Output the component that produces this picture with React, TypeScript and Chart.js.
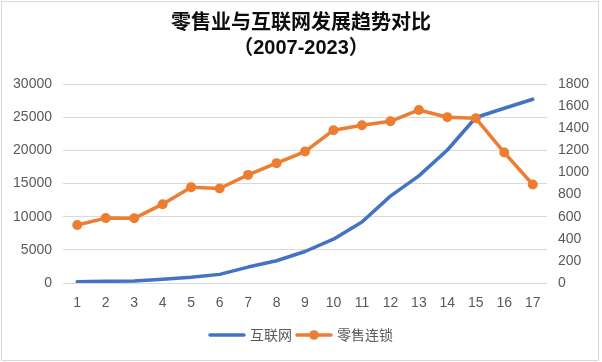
import React, { useEffect, useRef } from "react";
import { Chart, registerables } from "chart.js";

Chart.register(...registerables);

const categories = ["1","2","3","4","5","6","7","8","9","10","11","12","13","14","15","16","17"];
const internetValues = [200, 250, 300, 550, 850, 1300, 2400, 3350, 4750, 6600, 9200, 13100, 16150, 20050, 24950, 26350, 27700];
const retailValues = [524, 587, 585, 713, 867, 855, 978, 1084, 1189, 1382, 1427, 1463, 1565, 1499, 1490, 1180, 891];
const titleLines = ["零售业与互联网发展趋势对比", "（2007-2023）"];
const seriesNames = ["互联网", "零售连锁"];

const BLUE = "#4472C4";
const ORANGE = "#ED7D31";
const TEXT = "#595959";
const FONT = "'Liberation Sans', 'Noto Sans CJK SC', sans-serif";

const decorPlugin = {
  id: "decor",
  beforeDraw(chart: any) {
    const ctx = chart.ctx;
    ctx.save();
    ctx.fillStyle = "#ffffff";
    ctx.fillRect(0, 0, chart.width, chart.height);
    ctx.strokeStyle = "#D9D9D9";
    ctx.lineWidth = 1;
    ctx.strokeRect(1.5, 1.5, 597, 359);
    ctx.restore();
  },
  afterDraw(chart: any) {
    const ctx = chart.ctx;
    ctx.save();
    // title
    ctx.fillStyle = "#0d0d0d";
    ctx.font = "bold 20px " + FONT;
    ctx.textAlign = "center";
    ctx.textBaseline = "middle";
    ctx.fillText(titleLines[0], chart.width / 2, 23);
    ctx.fillText(titleLines[1], chart.width / 2, 48);
    // legend
    ctx.font = "14px " + FONT;
    ctx.textAlign = "left";
    const ds = chart.data.datasets;
    const lineW = 36;
    const gapText = 5;
    const gapItem = 4;
    const widths = ds.map((d: any) => ctx.measureText(d.label).width);
    let total = 0;
    widths.forEach((w: number, i: number) => {
      total += lineW + gapText + w + (i < widths.length - 1 ? gapItem : 0);
    });
    let x = chart.width / 2 - total / 2;
    const y = 335;
    ds.forEach((d: any, i: number) => {
      ctx.strokeStyle = d.borderColor;
      ctx.lineWidth = 3.5;
      ctx.lineCap = "round";
      ctx.beginPath();
      ctx.moveTo(x + 1, y);
      ctx.lineTo(x + lineW - 1, y);
      ctx.stroke();
      if (d.pointRadius > 0) {
        ctx.fillStyle = d.pointBackgroundColor;
        ctx.beginPath();
        ctx.arc(x + lineW / 2, y, 4.8, 0, Math.PI * 2);
        ctx.fill();
      }
      ctx.fillStyle = TEXT;
      ctx.fillText(d.label, x + lineW + gapText, y + 1);
      x += lineW + gapText + widths[i] + gapItem;
    });
    ctx.restore();
  },
};

const plain = (v: any) => String(v);

export default function App() {
  const ref = useRef<HTMLCanvasElement>(null);
  useEffect(() => {
    document.body.style.margin = "0";
    const chart = new Chart(ref.current!, {
      type: "line",
      data: {
        labels: categories,
        datasets: [
          {
            label: seriesNames[0],
            data: internetValues,
            borderColor: BLUE,
            backgroundColor: BLUE,
            borderWidth: 3.5,
            pointRadius: 0,
            pointHoverRadius: 0,
            tension: 0,
            yAxisID: "y",
            order: 1,
            borderCapStyle: "round",
            borderJoinStyle: "round",
          },
          {
            label: seriesNames[1],
            data: retailValues,
            borderColor: ORANGE,
            backgroundColor: ORANGE,
            pointBackgroundColor: ORANGE,
            pointBorderColor: ORANGE,
            borderWidth: 3.5,
            pointRadius: 5,
            pointBorderWidth: 0,
            tension: 0,
            yAxisID: "y1",
            order: 0,
            borderCapStyle: "round",
            borderJoinStyle: "round",
          },
        ],
      },
      options: {
        responsive: false,
        animation: false,
        layout: { padding: { top: 84, bottom: 49, left: 0, right: 0 } },
        plugins: {
          legend: { display: false },
          title: { display: false },
          tooltip: { enabled: false },
        },
        scales: {
          x: {
            offset: true,
            grid: { display: false, drawTicks: false },
            border: { display: false },
            ticks: { color: TEXT, font: { size: 14, family: FONT }, padding: 12, maxRotation: 0, autoSkip: false },
            afterFit(scale: any) { scale.height = 30; },
          },
          y: {
            position: "left",
            min: 0,
            max: 30000,
            grid: { color: "#D9D9D9", lineWidth: 1, drawTicks: false },
            border: { display: false },
            ticks: { stepSize: 5000, color: TEXT, font: { size: 14, family: FONT }, padding: 11, callback: plain },
            afterFit(scale: any) { scale.width = 63; },
          },
          y1: {
            position: "right",
            min: 0,
            max: 1800,
            grid: { display: false, drawTicks: false },
            border: { display: false },
            ticks: { stepSize: 200, color: TEXT, font: { size: 14, family: FONT }, padding: 11, callback: plain },
            afterFit(scale: any) { scale.width = 55; },
          },
        },
      },
      plugins: [decorPlugin],
    } as any);
    return () => chart.destroy();
  }, []);
  return (
    <div style={{ position: "absolute", left: 0, top: 0, width: 602, height: 362 }}>
      <canvas ref={ref} width={602} height={362} />
    </div>
  );
}
